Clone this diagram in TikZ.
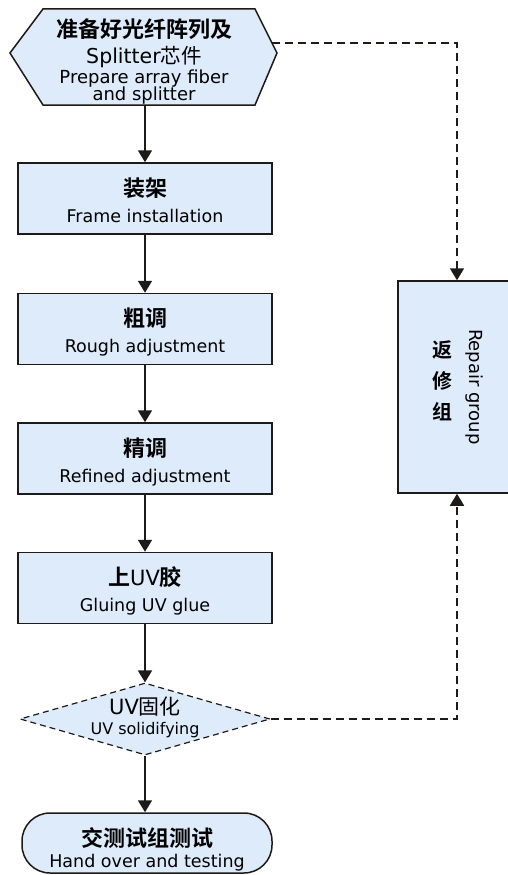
\documentclass[tikz,border=0pt]{standalone}
\usepackage{fontspec}
\setmainfont{DejaVu Sans}
\newfontfamily\cn{Noto Sans CJK SC}
\newfontfamily\cnb{Noto Sans CJK SC Bold}
\usetikzlibrary{arrows.meta,shapes.geometric}
\definecolor{boxfill}{RGB}{221,235,250}
\definecolor{ink}{RGB}{30,26,24}
\newcommand\zhb[1]{{\cnb\fontsize{22}{22}\selectfont #1}}
\newcommand\tightls{\lineskiplimit -100pt\relax}
\newcommand\fsbox{\fontsize{17.5}{26}\selectfont\tightls}
\newcommand\fshex{\fontsize{18}{17}\selectfont\tightls}
\newcommand\fsdia{\fontsize{16}{20}\selectfont\tightls}
\newcommand\fsterm{\fontsize{17.5}{21}\selectfont\tightls}
\begin{document}
\begin{tikzpicture}[x=1pt,y=-1pt,
  stepbox/.style={draw=ink, line width=1.5pt, fill=boxfill, minimum width=254pt, minimum height=71pt, inner sep=0pt, align=center, font=\fsbox},
  txt/.style={inner sep=0pt, align=center},
  flow/.style={draw=ink, line width=1.8pt, -{Triangle[length=12pt,width=14pt]}},
  back/.style={flow, dash pattern=on 8pt off 5pt},
]
\useasboundingbox (0,0) rectangle (507,875);

% start hexagon
\draw[draw=ink, line width=1.5pt, fill=boxfill] (10,53) -- (43,9) -- (255,9) -- (277,53) -- (255,105) -- (43,105) -- cycle;
\coordinate (hexS) at (145,105);
\coordinate (hexR) at (272,43);
\node[txt, anchor=north, font=\fshex] (hex) at (144,17)
  {\rule{0pt}{20pt}\smash{\zhb{准备好光纤阵列及}}\\[9pt]
   \smash{\fontsize{20.5}{13}\selectfont Splitter{\cn 芯件}}\\[3pt]
   \smash{Prepare array fiber}\\
   \smash{and splitter}};

% process boxes
\node[stepbox] (frame) at (145,198.5) {\rule{0pt}{24pt}\smash{\zhb{装架}}\\\smash{Frame installation}\rule[-3pt]{0pt}{3pt}};
\node[stepbox] (rough) at (145,329) {\rule{0pt}{24pt}\smash{\zhb{粗调}}\\\smash{Rough adjustment}\rule[-3pt]{0pt}{3pt}};
\node[stepbox] (refined) at (145,458.5) {\rule{0pt}{24pt}\smash{\zhb{精调}}\\\smash{Refined adjustment}\rule[-3pt]{0pt}{3pt}};
\node[stepbox] (glue) at (145,588) {\rule{0pt}{24pt}\smash{\zhb{上}{\fontsize{21}{21}\selectfont UV}\zhb{胶}}\\\smash{Gluing UV glue}\rule[-3pt]{0pt}{3pt}};

% decision
\node[diamond, draw=ink, line width=1.2pt, dash pattern=on 6pt off 4pt, fill=boxfill, minimum width=250pt, minimum height=72pt, inner sep=0pt] (dia) at (145,719) {};
\node[txt, font=\fsdia] (diat) at (145,719)
  {\rule{0pt}{14pt}\smash{\fontsize{21}{20}\selectfont UV{\cn 固化}}\\\smash{UV solidifying}\rule[-4pt]{0pt}{4pt}};

% terminal
\node[draw=ink, line width=1.5pt, fill=boxfill, rounded corners=28pt, minimum width=250pt, minimum height=60pt, inner sep=0pt, align=center, font=\fsterm] (term) at (147,843)
  {\rule{0pt}{28pt}\smash{\zhb{交测试组测试}}\\\smash{Hand over and testing}\rule[-1pt]{0pt}{1pt}};

% repair group
\node[draw=ink, line width=1.5pt, fill=boxfill, minimum width=118pt, minimum height=212pt, inner sep=0pt] (repair) at (457,387) {};
\node[txt, font=\cnb\fontsize{20}{31}\selectfont] (rzh) at (442,381) {返\\修\\组};
\node[txt, rotate=-90, font=\fontsize{18}{18}\selectfont] (ren) at (474,387) {Repair group};

% connectors
\draw[flow] (hexS) -- (frame.north);
\draw[flow] (frame.south) -- (rough.north);
\draw[flow] (rough.south) -- (refined.north);
\draw[flow] (refined.south) -- (glue.north);
\draw[flow] (glue.south) -- (dia.north);
\draw[flow] (dia.south) -- (dia.south |- term.north);
\draw[back] (hexR) -| (repair.north);
\draw[back] (dia.east) -| (repair.south);
\end{tikzpicture}
\end{document}
